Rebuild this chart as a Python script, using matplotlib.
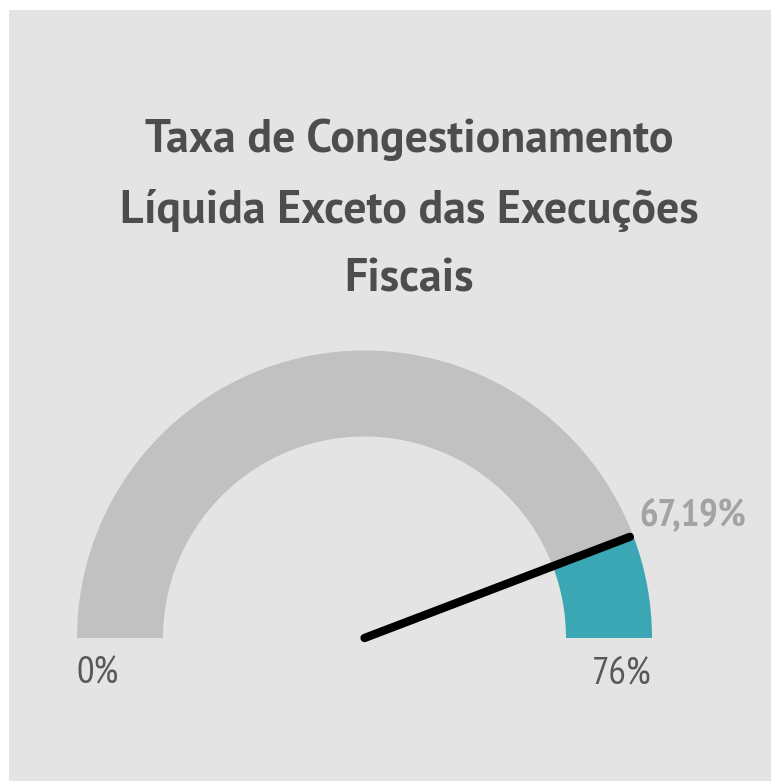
import numpy as np
import matplotlib
matplotlib.use("Agg")
import matplotlib.pyplot as plt
from matplotlib.patches import Wedge, Rectangle

# gauge data
title_lines = ["Taxa de Congestionamento", "Líquida Exceto das Execuções", "Fiscais"]
gauge_min = 0
gauge_max = 76
gauge_value = 67.19
min_label = "0%"
max_label = "76%"
value_label = "67,19%"

W, H = 771, 781
fig = plt.figure(figsize=(W / 100, H / 100), dpi=100)
fig.patch.set_facecolor("white")
ax = fig.add_axes([0, 0, 1, 1])
ax.set_xlim(0, W)
ax.set_ylim(0, H)
ax.set_aspect("equal")
ax.axis("off")

# panel background
ax.add_patch(Rectangle((9, 0), W - 9, H - 10, facecolor="#e4e4e4", edgecolor="none"))

title_fonts = ["PT Sans", "DejaVu Sans"]
fonts = ["PT Sans Narrow", "DejaVu Sans"]

for i, line in enumerate(title_lines):
    ax.text(409, H - 140 - i * 70, line, ha="center", va="center",
            fontsize=33, fontweight="bold", color="#4d4d4d", family=title_fonts)

def to_angle(v):
    return 180 * (1 - (v - gauge_min) / (gauge_max - gauge_min))

cx, cy = 364.5, H - 638
r_out, band = 287.5, 86
a = to_angle(gauge_value)

ax.add_patch(Wedge((cx, cy), r_out, a, to_angle(gauge_min), width=band,
                   facecolor="#c1c1c1", edgecolor="none"))
ax.add_patch(Wedge((cx, cy), r_out, to_angle(gauge_max), a, width=band,
                   facecolor="#3ca7b4", edgecolor="none"))

# needle
rad = np.deg2rad(a)
ax.plot([cx, cx + 284 * np.cos(rad)], [cy, cy + 284 * np.sin(rad)],
        color="black", lw=6, solid_capstyle="round")

ax.text(cx - r_out, cy - 36, min_label, ha="left", va="center",
        fontsize=28, color="#595959", family=fonts)
ax.text(cx + r_out, cy - 36, max_label, ha="right", va="center",
        fontsize=28, color="#595959", family=fonts)
ax.text(639, H - 516, value_label, ha="left", va="center",
        fontsize=28, fontweight="bold", color="#a3a3a3", family=fonts)

fig.savefig("out.png", dpi=100)
